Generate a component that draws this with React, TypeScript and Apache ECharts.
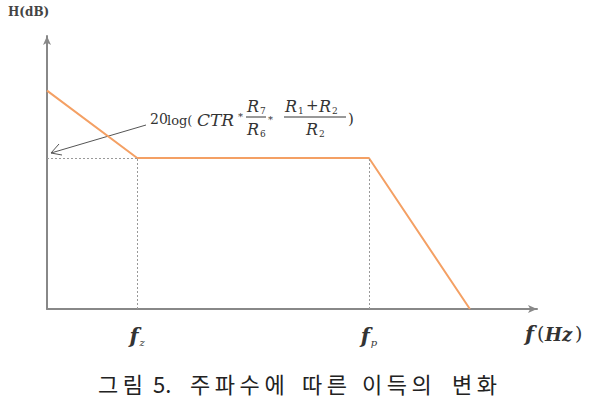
import React, { useEffect, useRef } from "react";
import * as echarts from "echarts";

const freq = [0, 18.4, 65.7, 86.3];
const gain = [80, 55.3, 55.3, 0];
const cornerFreqs = [18.4, 65.7];
const cornerSubs = ["z", "p"];
const flatGain = 55.3;
const captionWords = ["그림", "5.", "주파수에", "따른", "이득의", "변화"];

export default function App() {
  const ref = useRef<HTMLDivElement>(null);
  useEffect(() => {
    if (!ref.current) return;
    const chart = echarts.init(ref.current, null, { renderer: "svg" });
    const serif = "'DejaVu Serif', 'Liberation Serif', serif";
    const txtColor = "#333";
    const t = (x: number, y: number, text: string, font: string) => ({
      type: "text",
      x,
      y,
      style: { text, font, fill: txtColor, verticalAlign: "middle" },
    });
    const R = "italic 16px " + serif;
    const sub = "9px " + serif;
    // caption layout: word starts and character pitch
    const wordStart = [98, 153, 190, 302, 362, 452];
    const pitch = 24.8;
    const capFont = "22px 'Noto Sans CJK KR'";
    const capY = 383;
    const captionEls: any[] = [];
    captionWords.forEach((w, i) => {
      if (/^[0-9.]+$/.test(w)) {
        captionEls.push({
          type: "text",
          x: wordStart[i],
          y: capY,
          style: { text: w, font: capFont, fill: "#222", verticalAlign: "middle", lineHeight: 22 },
        });
      } else {
        Array.from(w).forEach((ch, j) => {
          captionEls.push({
            type: "text",
            x: wordStart[i] + j * pitch,
            y: capY,
            style: { text: ch, font: capFont, fill: "#222", verticalAlign: "middle", lineHeight: 22 },
          });
        });
      }
    });
    const graphic: any[] = [
      { type: "text", left: 8, top: 6, style: { text: "H(dB)", font: "bold 12px " + serif, fill: "#444" } },
      t(525, 333, "f", "italic bold 21px " + serif),
      t(537, 333, "(", "19px " + serif),
      t(545, 334, "Hz", "italic bold 18px " + serif),
      t(575, 333, ")", "19px " + serif),
      // formula
      t(150, 119, "20", "14px " + serif),
      t(167, 120, "log(", "13px " + serif),
      t(197, 120, "CTR", "italic 17px " + serif),
      t(238, 116, "*", "10px " + serif),
      t(247, 106, "R", R),
      t(260, 111, "7", sub),
      { type: "line", shape: { x1: 246, y1: 117, x2: 266, y2: 117 }, style: { stroke: txtColor, lineWidth: 1 } },
      t(247, 129, "R", R),
      t(260, 134, "6", sub),
      t(268, 119, "*", "10px " + serif),
      t(285, 106, "R", R),
      t(298, 111, "1", sub),
      t(306, 105, "+", "15px " + serif),
      t(319, 106, "R", R),
      t(332, 111, "2", sub),
      { type: "line", shape: { x1: 284, y1: 117, x2: 346, y2: 117 }, style: { stroke: txtColor, lineWidth: 1 } },
      t(306, 129, "R", R),
      t(319, 134, "2", sub),
      t(348, 119, ")", "15px " + serif),
      // annotation arrow
      { type: "line", shape: { x1: 146, y1: 125, x2: 51, y2: 153 }, style: { stroke: "#555", lineWidth: 1 } },
      { type: "polyline", shape: { points: [[59, 144], [51, 153], [62, 155]] }, style: { stroke: "#555", lineWidth: 1, fill: "none" } },
      ...captionEls,
    ];
    chart.setOption({
      animation: false,
      grid: { left: 47, right: 60, top: 36, bottom: 89 },
      xAxis: {
        type: "value",
        min: 0,
        max: 100,
        splitLine: { show: false },
        axisTick: { show: false },
        axisLine: { show: true, symbol: ["none", "arrow"], symbolSize: [6, 9], lineStyle: { color: "#888", width: 2 } },
        axisLabel: {
          customValues: cornerFreqs,
          margin: 14,
          formatter: (v: number) => {
            const i = cornerFreqs.indexOf(v);
            return "{f|f}{s|" + (cornerSubs[i] ?? "") + "}";
          },
          rich: {
            f: { fontStyle: "italic", fontWeight: "bold", fontSize: 21, fontFamily: serif, color: txtColor, lineHeight: 24 },
            s: { fontStyle: "italic", fontSize: 10, fontFamily: serif, color: txtColor, verticalAlign: "bottom", lineHeight: 14, padding: [0, 0, 0, 1] },
          },
        },
      },
      yAxis: {
        type: "value",
        min: 0,
        max: 100,
        splitLine: { show: false },
        axisTick: { show: false },
        axisLabel: { show: false },
        axisLine: { show: true, symbol: ["none", "arrow"], symbolSize: [6, 9], lineStyle: { color: "#888", width: 2 } },
      },
      series: [
        {
          type: "line",
          data: freq.map((f, i) => [f, gain[i]]),
          symbol: "none",
          lineStyle: { color: "#F4A064", width: 2 },
          markLine: {
            silent: true,
            symbol: ["none", "none"],
            label: { show: false },
            lineStyle: { color: "#999", type: [2, 2], width: 1 },
            data: [
              ...cornerFreqs.map((f) => [{ coord: [f, 0] }, { coord: [f, flatGain] }]),
              [{ coord: [0, flatGain] }, { coord: [cornerFreqs[0], flatGain] }],
            ],
          },
        },
      ],
      graphic,
    });
    return () => chart.dispose();
  }, []);
  return <div ref={ref} style={{ width: 597, height: 398, position: "absolute", left: 0, top: 0 }} />;
}
